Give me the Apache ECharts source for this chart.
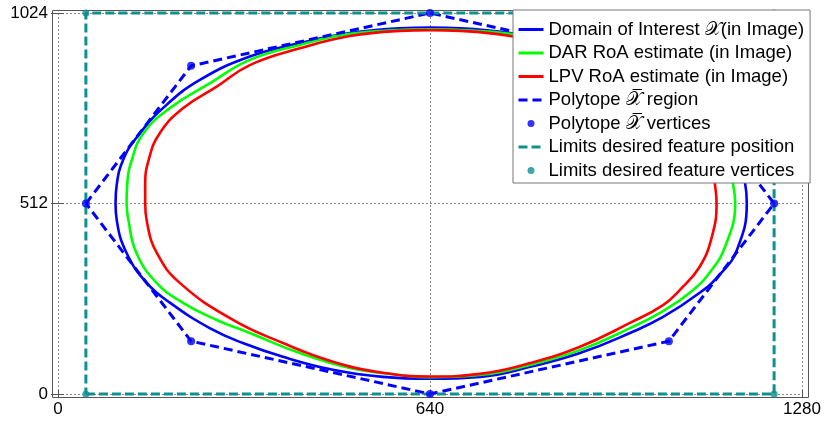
<!DOCTYPE html>
<html>
<head>
<meta charset="utf-8">
<script src="https://cdn.jsdelivr.net/npm/echarts@6/dist/echarts.min.js"></script>
<style>
  html, body { margin: 0; padding: 0; background: #fff; }
  #chart { width: 825px; height: 423px; }
</style>
</head>
<body>
<div id="chart"></div>
<script>
// Image-plane coordinates (pixels) of each region boundary.
const xTicks = [0, 640, 1280];
const yTicks = [0, 512, 1024];

const domainCurve = [
  [640,985],[588,983],[502,970],[416,943],[330,907],[244,844],[181,769],[136,691],[112,629],[101,562],
  [99,513],[101,468],[118,379],[153,298],[193,245],[261,177],[318,137],[387,100],[473,65],[559,46],
  [640,41],[726,46],[812,73],[898,110],[984,164],[1041,207],[1104,272],[1138,320],[1168,387],[1185,513],
  [1182,567],[1168,629],[1144,691],[1099,769],[1036,844],[950,907],[864,943],[778,970],[692,983],[640,985]
];

const darCurve = [
  [640,980],[502,968],[416,938],[330,898],[261,835],[193,769],[147,701],[127,629],[119,562],[118,513],
  [121,468],[135,379],[170,298],[215,245],[273,199],[330,164],[416,110],[502,70],[588,51],[640,45],
  [726,51],[812,78],[898,118],[984,177],[1041,223],[1087,272],[1122,328],[1149,401],[1165,513],
  [1161,567],[1153,629],[1133,701],[1087,769],[1019,835],[950,898],[864,938],[778,968],[640,980]
];

const lpvCurve = [
  [640,978],[588,976],[502,962],[416,929],[330,884],[273,826],[215,768],[175,701],[156,629],[150,562],
  [150,513],[153,462],[170,379],[210,298],[301,199],[387,137],[473,87],[559,57],[640,47],
  [726,54],[812,83],[898,127],[984,191],[1041,239],[1070,280],[1104,342],[1125,423],[1133,513],
  [1130,567],[1125,629],[1105,701],[1065,768],[1007,826],[950,884],[864,929],[778,962],[692,976],[640,978]
];

const polytopeVertices = [
  [48,512],[229,882],[640,1024],[1051,882],[1232,512],[1051,142],[640,0],[229,142]
];

const limitVertices = [
  [48,0],[1232,0],[1232,1024],[48,1024]
];

const names = [
  'Domain of Interest \u{1D4B3}(in Image)',
  'DAR RoA estimate (in Image)',
  'LPV RoA estimate (in Image)',
  'Polytope \u{1D4B3}\u0305 region',
  'Polytope \u{1D4B3}\u0305 vertices',
  'Limits desired feature position',
  'Limits desired feature vertices'
];

const BLUE = '#0000ff', GREEN = '#00ff00', RED = '#ff0000', TEAL = '#0f8f8f';
const FONT = '"Liberation Sans", Arial, sans-serif';

const closed = pts => pts.concat([pts[0]]);

const chart = echarts.init(document.getElementById('chart'), null, { renderer: 'canvas' });

const valueAxis = (extra) => Object.assign({
  type: 'value',
  axisLine: { show: false },
  axisTick: { show: true, inside: true, lineStyle: { color: '#555', width: 1 } },
  splitLine: { show: false },
  axisLabel: { show: false }
}, extra);

const plainLabel = v => String(v);

// Line entries in the legend show only their stroke, no marker dot.
const lineOnly = { itemStyle: { opacity: 0 } };

chart.setOption({
  animation: false,
  backgroundColor: '#fff',
  grid: { left: 58, right: 23, top: 13, bottom: 29, containLabel: false },
  xAxis: [
    valueAxis({
      position: 'bottom', min: xTicks[0], max: xTicks[xTicks.length - 1], interval: xTicks[1] - xTicks[0],
      offset: 4,
      axisTick: { show: true, inside: true, length: 4, lineStyle: { color: '#555' } },
      axisLabel: { show: true, color: '#000', fontSize: 17, fontFamily: FONT, margin: 3, formatter: plainLabel },
      splitLine: { show: true, lineStyle: { type: [2, 2], color: '#8a8a8a', width: 1 } }
    }),
    valueAxis({
      position: 'top', min: xTicks[0], max: xTicks[xTicks.length - 1], interval: xTicks[1] - xTicks[0],
      offset: 3,
      axisTick: { show: true, inside: true, length: 3, lineStyle: { color: '#555' } }
    })
  ],
  yAxis: [
    valueAxis({
      position: 'left', min: yTicks[0], max: yTicks[yTicks.length - 1], interval: yTicks[1] - yTicks[0],
      offset: 6,
      axisTick: { show: true, inside: true, length: 6, lineStyle: { color: '#555' } },
      axisLabel: { show: true, color: '#000', fontSize: 17, fontFamily: FONT, margin: 4, formatter: plainLabel },
      splitLine: { show: true, lineStyle: { type: [2, 2], color: '#8a8a8a', width: 1 } }
    }),
    valueAxis({
      position: 'right', min: yTicks[0], max: yTicks[yTicks.length - 1], interval: yTicks[1] - yTicks[0],
      offset: 7,
      axisTick: { show: true, inside: true, length: 7, lineStyle: { color: '#555' } }
    })
  ],
  graphic: [{
    type: 'rect',
    shape: { x: 52.5, y: 10.5, width: 756, height: 387 },
    style: { fill: 'none', stroke: '#555', lineWidth: 1 },
    silent: true,
    z: 1
  }],
  legend: {
    orient: 'vertical',
    left: 513, top: 10,
    padding: [10, 6, 3, 4],
    itemGap: 4.5,
    itemWidth: 25,
    itemHeight: 7,
    backgroundColor: '#fff',
    borderColor: '#777',
    borderWidth: 1,
    borderRadius: 0,
    lineStyle: { width: 3 },
    textStyle: { fontSize: 18.5, fontFamily: FONT, color: '#000', lineHeight: 16 },
    data: [
      Object.assign({ name: names[0] }, lineOnly),
      Object.assign({ name: names[1] }, lineOnly),
      Object.assign({ name: names[2] }, lineOnly),
      Object.assign({ name: names[3] }, lineOnly),
      { name: names[4] },
      Object.assign({ name: names[5] }, lineOnly),
      { name: names[6] }
    ]
  },
  series: [
    {
      name: names[0], type: 'line', data: domainCurve, smooth: 0.45, symbol: 'none', clip: false,
      lineStyle: { color: BLUE, width: 2.6 }, itemStyle: { color: BLUE }, z: 3
    },
    {
      name: names[1], type: 'line', data: darCurve, smooth: 0.45, symbol: 'none', clip: false,
      lineStyle: { color: GREEN, width: 2.6 }, itemStyle: { color: GREEN }, z: 3
    },
    {
      name: names[2], type: 'line', data: lpvCurve, smooth: 0.45, symbol: 'none', clip: false,
      lineStyle: { color: RED, width: 2.6 }, itemStyle: { color: RED }, z: 3
    },
    {
      name: names[3], type: 'line', data: closed(polytopeVertices), symbol: 'none', clip: false,
      lineStyle: { color: BLUE, width: 3, type: [9, 5] }, itemStyle: { color: BLUE }, z: 3
    },
    {
      name: names[4], type: 'scatter', data: polytopeVertices, symbol: 'circle', symbolSize: 8, clip: false,
      itemStyle: { color: BLUE }, z: 3
    },
    {
      name: names[5], type: 'line', data: closed(limitVertices), symbol: 'none', clip: false,
      lineStyle: { color: TEAL, width: 3, type: [9, 4] }, itemStyle: { color: TEAL }, z: 3
    },
    {
      name: names[6], type: 'scatter', data: limitVertices, symbol: 'circle', symbolSize: 7, clip: false,
      itemStyle: { color: TEAL }, z: 3
    }
  ]
});
</script>
</body>
</html>
